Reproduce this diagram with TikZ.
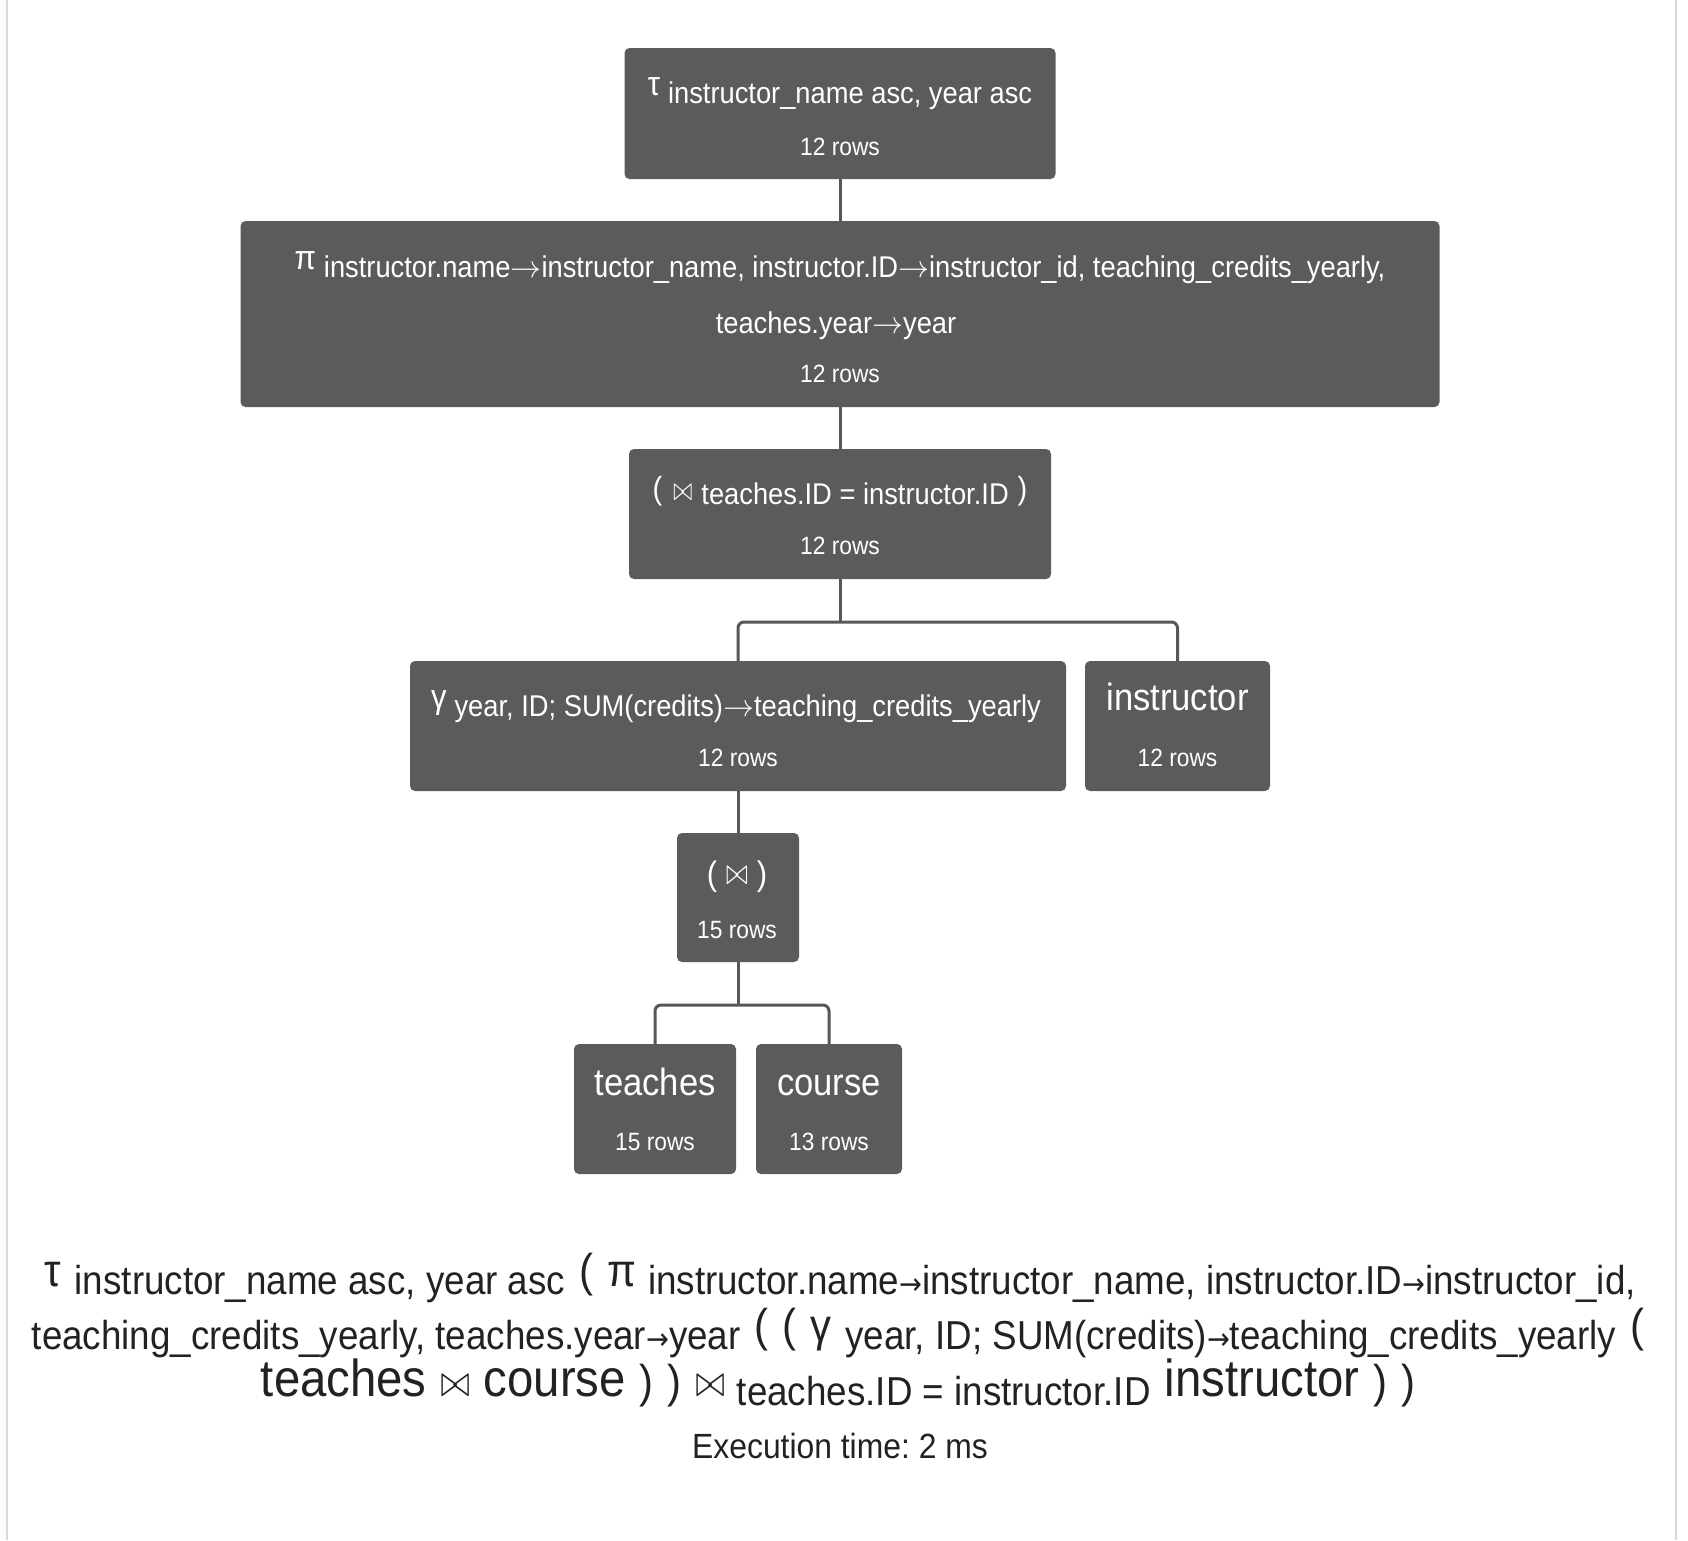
\documentclass[tikz,border=0pt]{standalone}
\usepackage{fontspec}
\setmainfont{Liberation Sans}[FakeStretch=0.91]
\newfontfamily\arrowfont{DejaVu Sans}[FakeStretch=0.91]

\definecolor{boxgray}{HTML}{5B5B5B}
\definecolor{linkgray}{HTML}{575757}
\definecolor{ink}{HTML}{222222}
\definecolor{framegray}{HTML}{DADADA}

% font size helper (sizes in pt, one pt per pixel)
\newcommand\fs[1]{\fontsize{#1}{#1}\selectfont}
% a math symbol set at 10pt and scaled: {x-scale}{y-scale}{symbol}
\newcommand\mathsym[3]{\scalebox{#1}[#2]{\fs{10}$#3$}}
% raised operator symbol inside the boxes
\newcommand\boxop[1]{\raisebox{8pt}{\fs{34}#1}}
% raised big symbol in the expression below the tree
\newcommand\exprop[1]{\raisebox{8pt}{\fs{46}#1}}
% raised big relation name in the expression
\newcommand\exprrel[1]{\raisebox{9pt}{\fs{52}#1}}
% arrows
\newcommand\boxarrow{\mathsym{3.1}{3.1}{\rightarrow}}
\newcommand\exprarrow{{\arrowfont\fs{30}→}}
% join symbols
\newcommand\boxbowtie[3]{\raisebox{#1}{\mathsym{#2}{#3}{\bowtie}}}
\newcommand\exprbowtie{\raisebox{9pt}{\mathsym{3.5}{4.5}{\bowtie}}}

\begin{document}
\frenchspacing
\begin{tikzpicture}[x=1pt,y=-1pt,
  opbox/.style={fill=boxgray, draw=none, rounded corners=5pt, inner sep=0pt},
  optext/.style={text=white, font={\fs{30}\frenchspacing}, inner sep=0pt, anchor=base},
  bigname/.style={text=white, font={\fs{38}}, inner sep=0pt, anchor=base},
  rowstext/.style={text=white, font={\fs{25}}, inner sep=0pt, anchor=base},
  exprtext/.style={text=ink, font={\fs{40.4}\frenchspacing}, inner sep=0pt, anchor=base},
  link/.style={draw=linkgray, line width=3pt},
  framerule/.style={draw=framegray, line width=2pt}]

\fill[white] (0,0) rectangle (1688,1540);
\useasboundingbox (0,0) rectangle (1688,1540);
\draw[framerule] (7,0) -- (7,1540);
\draw[framerule] (1676,0) -- (1676,1540);

% ---- operator boxes ----
\node[opbox, minimum width=431, minimum height=131] (tau) at (840,113.5) {};
\node[opbox, minimum width=1199, minimum height=186] (pi) at (840,314) {};
\node[opbox, minimum width=422, minimum height=130] (join) at (840,514) {};
\node[opbox, minimum width=656, minimum height=130] (gamma) at (738,726) {};
\node[opbox, minimum width=185, minimum height=130] (inst) at (1177.5,726) {};
\node[opbox, minimum width=122, minimum height=129] (bowtie) at (738,897.5) {};
\node[opbox, minimum width=162, minimum height=130] (teaches) at (655,1109) {};
\node[opbox, minimum width=146, minimum height=130] (course) at (829,1109) {};

% ---- box labels ----
\node[optext] (tau-t) at (840,103) {\boxop{τ}\hspace{8pt}instructor\_name asc, year asc};
\node[rowstext] (tau-r) at (840,155) {12 rows};

\node[optext] (pi-t1) at (840,277) {\boxop{π}\hspace{8pt}instructor.name\boxarrow instructor\_name, instructor.ID\boxarrow instructor\_id, teaching\_credits\_yearly,};
\node[optext] (pi-t2) at (836,333) {teaches.year\boxarrow year};
\node[rowstext] (pi-r) at (840,382) {12 rows};

\node[optext] (join-t) at (840,504) {\raisebox{5pt}{\fs{32}(}\hspace{11pt}\boxbowtie{4pt}{2.3}{3.3}\hspace{9pt}teaches.ID = instructor.ID\hspace{9pt}\raisebox{5pt}{\fs{32})}};
\node[rowstext] (join-r) at (840,554) {12 rows};

\node[optext] (gamma-t) at (736,716) {\boxop{γ}\hspace{8pt}year, ID; SUM(credits)\boxarrow teaching\_credits\_yearly};
\node[rowstext] (gamma-r) at (738,766) {12 rows};

\node[bigname] (inst-t) at (1177.5,710) {instructor};
\node[rowstext] (inst-r) at (1177.5,766) {12 rows};

\node[optext] (bowtie-t) at (737,885) {{\fs{34}(}\hspace{9pt}\boxbowtie{1pt}{2.6}{3.7}\hspace{9pt}{\fs{34})}};
\node[rowstext] (bowtie-r) at (737,938) {15 rows};

\node[bigname] (teaches-t) at (655,1095) {teaches};
\node[rowstext] (teaches-r) at (655,1150) {15 rows};

\node[bigname] (course-t) at (829,1095) {course};
\node[rowstext] (course-r) at (829,1150) {13 rows};

% ---- tree connectors ----
\draw[link] (tau.south) -- (pi.north);
\draw[link] (pi.south) -- (join.north);
\coordinate (jfork) at (840,622);
\draw[link] (join.south) -- (jfork);
\draw[link, rounded corners=6pt] (gamma.north) -- (gamma.north |- jfork) -- (inst.north |- jfork) -- (inst.north);
\draw[link] (gamma.south) -- (bowtie.north);
\coordinate (bfork) at (738,1005);
\draw[link] (bowtie.south) -- (bfork);
\draw[link, rounded corners=6pt] (teaches.north) -- (teaches.north |- bfork) -- (course.north |- bfork) -- (course.north);

% ---- relational algebra expression ----
\node[exprtext] (expr1) at (840,1294) {\exprop{τ}\hspace{14pt}instructor\_name asc, year asc\hspace{14pt}\exprop{(}\hspace{14pt}\exprop{π}\hspace{12pt}instructor.name\exprarrow instructor\_name, instructor.ID\exprarrow instructor\_id,};
\node[exprtext] (expr2) at (838,1349) {teaching\_credits\_yearly, teaches.year\exprarrow year\hspace{14pt}\exprop{(}\hspace{14pt}\exprop{(}\hspace{14pt}\exprop{γ}\hspace{14pt}year, ID; SUM(credits)\exprarrow teaching\_credits\_yearly\hspace{14pt}\exprop{(}};
\node[exprtext] (expr3) at (838,1405) {\exprrel{teaches}\hspace{14pt}\exprbowtie\hspace{14pt}\exprrel{course}\hspace{14pt}\exprop{)}\hspace{14pt}\exprop{)}\hspace{14pt}\exprbowtie\hspace{12pt}teaches.ID = instructor.ID\hspace{14pt}\exprrel{instructor}\hspace{14pt}\exprop{)}\hspace{14pt}\exprop{)}};
\node[exprtext, font={\fs{35}\frenchspacing}] (exectime) at (840,1458) {Execution time: 2 ms};
\end{tikzpicture}
\end{document}
